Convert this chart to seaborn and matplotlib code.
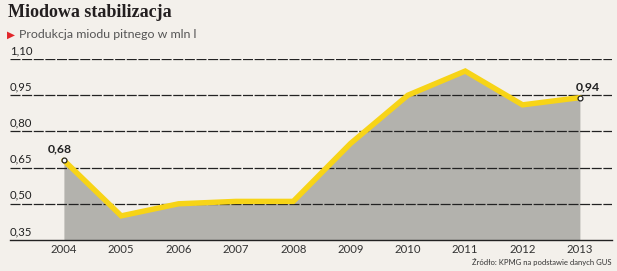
import matplotlib
matplotlib.use("Agg")
import matplotlib.pyplot as plt
import matplotlib.transforms as mtransforms
import seaborn as sns
import pandas as pd

years = [2004, 2005, 2006, 2007, 2008, 2009, 2010, 2011, 2012, 2013]
values = [0.68, 0.45, 0.50, 0.51, 0.51, 0.75, 0.95, 1.05, 0.91, 0.94]
yticks = [0.35, 0.50, 0.65, 0.80, 0.95, 1.10]
ytick_labels = ["0,35", "0,50", "0,65", "0,80", "0,95", "1,10"]
labeled = {2004: "0,68", 2013: "0,94"}

title = "Miodowa stabilizacja"
subtitle = "Produkcja miodu pitnego w mln l"
source = "Źródło: KPMG na podstawie danych GUS"

df = pd.DataFrame({"year": years, "value": values})

sns.set_theme(style="white")
plt.rcParams["font.family"] = ["Lato", "DejaVu Sans"]

BG = "#f3f0eb"
W, H = 617, 271
fig = plt.figure(figsize=(W / 100, H / 100), dpi=100, facecolor=BG)
ax = fig.add_axes([10 / W, 1 - 240 / H, (612 - 10) / W, (240 - 59) / H])
ax.set_facecolor(BG)

ax.fill_between(df["year"], df["value"], 0.35, color="#b3b2ad", lw=0, zorder=1)
sns.lineplot(data=df, x="year", y="value", ax=ax, color="#f7d417", lw=3.9,
             zorder=3, solid_joinstyle="miter")

ax.set_xlim(2003.06, 2013.56)
ax.set_ylim(0.35, 1.10)
ax.set_xticks(years)
ax.set_xticklabels([str(y) for y in years], fontsize=8.2, color="#333333")
ax.set_yticks(yticks)
ax.set_yticklabels([])
ax.tick_params(axis="y", length=0)
ax.tick_params(axis="x", direction="in", length=3, width=0.8, color="#333333", pad=3)
ax.set_xlabel("")
ax.set_ylabel("")
for s in ["top", "right", "left"]:
    ax.spines[s].set_visible(False)
ax.spines["bottom"].set_color("#222222")
ax.spines["bottom"].set_linewidth(1.0)
ax.spines["bottom"].set_zorder(4)

for v in yticks[1:]:
    ax.axhline(v, color="#222222", lw=0.9, ls=(0, (8, 1.3)), zorder=2)

trans = mtransforms.blended_transform_factory(ax.transAxes, ax.transData)
for v, lab in zip(yticks, ytick_labels):
    ax.text(0.0, v + 0.012, lab, transform=trans, fontsize=8.2, color="#222222",
            ha="left", va="bottom")

for yr, lab in labeled.items():
    v = values[years.index(yr)]
    ax.plot([yr], [v], marker="o", ms=3.5, mfc="white", mec="#222222", mew=0.9,
            zorder=5, clip_on=False)
    ax.annotate(lab, (yr, v), xytext=(-3, 4), textcoords="offset points",
                fontsize=8.8, fontweight="bold", color="#222222",
                ha="center" if yr == 2004 else "left", va="bottom")

fig.text(8 / W, 1 - 17 / H, title, fontsize=13, fontweight="bold",
         family=["Liberation Serif", "DejaVu Serif"], color="#231f20",
         ha="left", va="baseline")
fig.text(7 / W, 1 - 38 / H, "▶", fontsize=7.5, color="#e2262b",
         family=["DejaVu Sans"], ha="left", va="baseline")
fig.text(19 / W, 1 - 38 / H, subtitle, fontsize=8.9, color="#555555",
         ha="left", va="baseline")
fig.text(611 / W, 1 - 265 / H, source, fontsize=5.5, color="#333333",
         ha="right", va="baseline")

fig.savefig("out.png", dpi=100, facecolor=BG)
